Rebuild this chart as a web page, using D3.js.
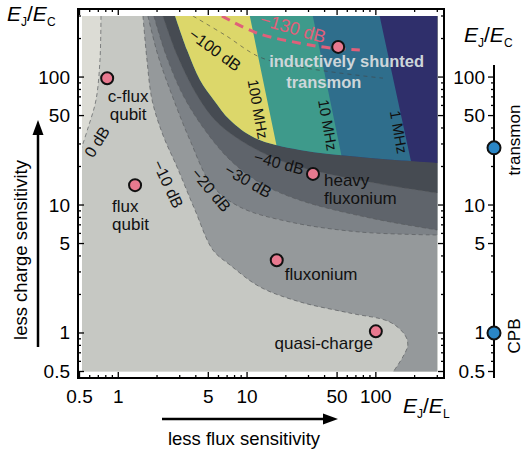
<!DOCTYPE html>
<html>
<head>
<meta charset="utf-8">
<script src="https://cdn.jsdelivr.net/npm/d3@7"></script>
<style>
body { margin: 0; background: #fff; }
text { font-family: "Liberation Sans", Arial, sans-serif; }
</style>
</head>
<body>
<svg width="524" height="452"></svg>
<script>
// all points are [EJ/EL, EJ/EC]
var contour0 = [[0.734, 300], [0.721, 136], [0.671, 66], [0.582, 40], [0.5, 25]];
var contour10 = [[1.555, 300], [1.67, 136], [1.83, 66], [2.22, 35.3], [2.86, 19.8], [3.94, 9.14], [5.43, 4.45],
  [7.37, 3.4], [12.6, 2.29], [25.7, 1.75], [62.8, 1.43], [128, 1.22], [168, 0.965], [177, 0.806], [162, 0.65], [133, 0.48]];
var contour20 = [[1.70, 300], [2.03, 148.5], [2.61, 72.3], [3.60, 32.2], [5.34, 14.3], [8.81, 9.64], [21.5, 7.37], [75.1, 6.15], [300, 5.83]];
var contour30 = [[1.89, 300], [2.35, 148.5], [3.18, 72.3], [4.71, 38.5], [7.37, 22.5], [12.6, 14.9], [25.7, 10.9], [90, 7.92], [300, 6.38]];
var contour40 = [[2.22, 300], [2.86, 148.5], [4.08, 72.3], [5.63, 46.1], [8.81, 32.2], [17.7, 22.5], [36.8, 18.1], [108, 14.6], [300, 12.4]];
var colorEdge = [[2.76, 300], [3.42, 162.5], [4.31, 94.8], [5.53, 66], [7.37, 46.1], [11.5, 33.4], [25.7, 26.9], [75.1, 23.7], [300, 21.3]];

// frequency band edges: top and bottom point
var freq100 = [[10.5, 300], [18.7, 18]];
var freq10 = [[32.4, 300], [57.5, 18]];
var freq1 = [[107, 300], [198, 17]];

var line100dB = [[3.80, 300], [6.74, 213], [12.6, 143], [25.7, 120], [52.6, 107.5], [113.5, 98]];
var line130dB = [[6.38, 300], [11.9, 221], [25.7, 184], [44, 169], [75.1, 163]];

var qubits = [
  {name: "c-flux qubit", x: 0.82, y: 98},
  {name: "flux qubit", x: 1.35, y: 14.3},
  {name: "fluxonium", x: 17, y: 3.7},
  {name: "heavy fluxonium", x: 32.5, y: 17.5},
  {name: "quasi-charge", x: 100, y: 1.03},
  {name: "inductively shunted transmon", x: 51, y: 172}
];
var sideQubits = [{name: "transmon", y: 28}, {name: "CPB", y: 1}];

var contourLabels = [
  {text: "0 dB", x: 0.685, y: 31.1, angle: -58},
  {text: "\u221210 dB", x: 2.43, y: 14.6, angle: 65},
  {text: "\u221220 dB", x: 5.25, y: 13.1, angle: 50},
  {text: "\u221230 dB", x: 10.2, y: 15.4, angle: 30},
  {text: "\u221240 dB", x: 17.7, y: 21.3, angle: 15},
  {text: "\u2212100 dB", x: 5.63, y: 163, angle: 36}
];
var freqLabels = [
  {text: "100 MHz", x: 12.2, y: 56.2},
  {text: "10 MHz", x: 42.5, y: 42.2},
  {text: "1 MHz", x: 151, y: 37.2}
];

var tickValues = [0.5, 1, 5, 10, 50, 100];
var tickLabels = ["0.5", "1", "5", "10", "50", "100"];
var minorTicks = [0.6, 0.7, 0.8, 0.9, 2, 3, 4, 6, 7, 8, 9, 20, 30, 40, 60, 70, 80, 90, 200, 300];

var svg = d3.select("svg");

var x = d3.scaleLog().domain([0.5, 300]).range([79.5, 437.3]);
var y = d3.scaleLog().domain([0.5, 300]).range([371.5, 16]);

var frame = {left: 78, top: 9, right: 444, bottom: 378};

var defs = svg.append("defs");
defs.append("clipPath").attr("id", "plot").append("rect")
  .attr("x", 82).attr("y", 16).attr("width", x(300) - 82).attr("height", y(0.5) - 16);

var line = d3.line()
  .x(d => x(d[0]))
  .y(d => y(d[1]))
  .curve(d3.curveCatmullRom.alpha(0.5));

// closes a curve with extra corner points
function region(points, corners) {
  return line(points) + corners.map(c => "L" + x(c[0]) + "," + y(c[1])).join("") + "Z";
}
function topRight(points) {
  var first = points[0], last = points[points.length - 1];
  return [[1000, last[1]], [1000, 1000], [first[0], 1000]];
}

var plot = svg.append("g").attr("clip-path", "url(#plot)");

plot.append("rect").attr("x", 0).attr("y", 0).attr("width", 524).attr("height", 452).attr("fill", "#dcdcd5");

plot.append("path")
  .attr("d", region(contour0, [[0.1, 25], [0.1, 0.1], [1000, 0.1], [1000, 1000], [0.734, 1000]]))
  .attr("fill", "#c6c8c3");
plot.append("path")
  .attr("d", region(contour10, [[133, 0.1], [1000, 0.1], [1000, 1000], [1.555, 1000]]))
  .attr("fill", "#95999b");
plot.append("path").attr("d", region(contour20, topRight(contour20))).attr("fill", "#7d8287");
plot.append("path").attr("d", region(contour30, topRight(contour30))).attr("fill", "#5f646b");
plot.append("path").attr("d", region(contour40, topRight(contour40))).attr("fill", "#464b52");

// coloured frequency bands
defs.append("clipPath").attr("id", "colored").append("path")
  .attr("d", region(colorEdge, topRight(colorEdge)));

var bands = plot.append("g").attr("clip-path", "url(#colored)");
bands.append("rect").attr("x", 0).attr("y", 0).attr("width", 524).attr("height", 452).attr("fill", "#2f2f6b");
[[freq1, "#2f6e8c"], [freq10, "#3e9a8b"], [freq100, "#dcd76a"]].forEach(function(b) {
  var pts = b[0];
  var d = "M" + x(0.1) + "," + y(1000) + "L" + x(pts[0][0]) + "," + y(1000) +
    "L" + x(pts[0][0]) + "," + y(pts[0][1]) + "L" + x(pts[1][0]) + "," + y(pts[1][1]) +
    "L" + x(pts[1][0]) + "," + y(0.1) + "L" + x(0.1) + "," + y(0.1) + "Z";
  bands.append("path").attr("d", d).attr("fill", b[1]);
});

// dashed contour lines
[contour0, contour10, contour20, contour30, contour40].forEach(function(c) {
  plot.append("path").attr("d", line(c))
    .attr("fill", "none").attr("stroke", "#5a5d60").attr("stroke-opacity", 0.7)
    .attr("stroke-width", 1).attr("stroke-dasharray", "4,3");
});

plot.append("path").attr("d", line(line100dB))
  .attr("fill", "none").attr("stroke", "#444").attr("stroke-opacity", 0.6)
  .attr("stroke-width", 1).attr("stroke-dasharray", "4,4");
plot.append("path").attr("d", line(line130dB))
  .attr("fill", "none").attr("stroke", "#e0607a")
  .attr("stroke-width", 3).attr("stroke-dasharray", "9,6");

// contour labels
contourLabels.forEach(function(l) {
  svg.append("text")
    .attr("transform", "translate(" + x(l.x) + "," + y(l.y) + ") rotate(" + l.angle + ")")
    .attr("text-anchor", "middle").attr("dominant-baseline", "central")
    .attr("font-size", 16).attr("fill", "#111")
    .text(l.text);
});
svg.append("text")
  .attr("transform", "translate(" + x(22.7) + "," + y(241) + ") rotate(16)")
  .attr("text-anchor", "middle").attr("dominant-baseline", "central")
  .attr("font-size", 18).attr("fill", "#e0607a")
  .text("\u2212130 dB");
freqLabels.forEach(function(l) {
  svg.append("text")
    .attr("transform", "translate(" + x(l.x) + "," + y(l.y) + ") rotate(80)")
    .attr("text-anchor", "middle").attr("dominant-baseline", "central")
    .attr("font-size", 15).attr("fill", "#111")
    .text(l.text);
});

// qubit markers
svg.selectAll(".qubit")
  .data(qubits)
  .enter().append("circle")
  .attr("class", "qubit")
  .attr("cx", d => x(d.x))
  .attr("cy", d => y(d.y))
  .attr("r", 6)
  .attr("fill", "#e8798f")
  .attr("stroke", "#111")
  .attr("stroke-width", 2);

// qubit names: [qubit, lines, dx, dy, anchor]
var nameSpots = [
  [0, ["c-flux", "qubit"], 21, 24, "middle"],
  [1, ["flux", "qubit"], -23, 27, "start"],
  [2, ["fluxonium"], 8, 20, "start"],
  [3, ["heavy", "fluxonium"], 11, 12, "start"],
  [4, ["quasi-charge"], -3, 18, "end"]
];
nameSpots.forEach(function(s) {
  var q = qubits[s[0]];
  s[1].forEach(function(t, i) {
    svg.append("text")
      .attr("x", x(q.x) + s[2]).attr("y", y(q.y) + s[3] + i * 18)
      .attr("text-anchor", s[4]).attr("font-size", 17).attr("fill", "#111")
      .text(t);
  });
});
var ist = qubits[5];
svg.append("text").attr("x", x(ist.x) - 69).attr("y", y(ist.y) + 20)
  .attr("font-family", "Open Sans").attr("font-weight", 600).attr("font-size", 16.5)
  .attr("fill", "#cdd6da").text("inductively shunted");
svg.append("text").attr("x", x(ist.x) - 52).attr("y", y(ist.y) + 41)
  .attr("font-family", "Open Sans").attr("font-weight", 600).attr("font-size", 16.5)
  .attr("fill", "#cdd6da").text("transmon");

// frame with ticks
svg.append("rect")
  .attr("x", frame.left).attr("y", frame.top)
  .attr("width", frame.right - frame.left).attr("height", frame.bottom - frame.top)
  .attr("fill", "none").attr("stroke", "#000").attr("stroke-width", 2);

var ticks = svg.append("g").attr("stroke", "#000").attr("stroke-width", 1.3);
tickValues.concat(minorTicks).forEach(function(v, i) {
  var len = i < tickValues.length ? 6 : 3;
  var px = x(v), py = y(v);
  ticks.append("line").attr("x1", px).attr("x2", px).attr("y1", frame.bottom).attr("y2", frame.bottom - len);
  ticks.append("line").attr("x1", px).attr("x2", px).attr("y1", frame.top).attr("y2", frame.top + len);
  ticks.append("line").attr("y1", py).attr("y2", py).attr("x1", frame.left).attr("x2", frame.left + len);
  ticks.append("line").attr("y1", py).attr("y2", py).attr("x1", frame.right).attr("x2", frame.right - len);
});

tickValues.forEach(function(v, i) {
  svg.append("text").attr("x", x(v)).attr("y", 403).attr("text-anchor", "middle")
    .attr("font-size", 19).text(tickLabels[i]);
  svg.append("text").attr("x", 70).attr("y", y(v)).attr("text-anchor", "end")
    .attr("dominant-baseline", "central").attr("font-size", 19).text(tickLabels[i]);
});

// side axis for charge qubits
var side = {x: 494, top: 65, bottom: 378};
svg.append("line").attr("x1", side.x).attr("x2", side.x).attr("y1", side.top).attr("y2", side.bottom)
  .attr("stroke", "#000").attr("stroke-width", 2);
tickValues.concat(minorTicks).forEach(function(v, i) {
  var len = i < tickValues.length ? 6 : 3;
  if (y(v) < side.top) return;
  svg.append("line").attr("x1", side.x).attr("x2", side.x - len).attr("y1", y(v)).attr("y2", y(v))
    .attr("stroke", "#000").attr("stroke-width", 1.3);
});
tickValues.forEach(function(v, i) {
  svg.append("text").attr("x", 485).attr("y", y(v)).attr("text-anchor", "end")
    .attr("dominant-baseline", "central").attr("font-size", 19).text(tickLabels[i]);
});
svg.selectAll(".side")
  .data(sideQubits)
  .enter().append("circle")
  .attr("class", "side")
  .attr("cx", side.x).attr("cy", d => y(d.y)).attr("r", 6.5)
  .attr("fill", "#2a86c6").attr("stroke", "#111").attr("stroke-width", 2);
svg.append("text").attr("transform", "translate(520," + 140 + ") rotate(-90)")
  .attr("text-anchor", "middle").attr("font-size", 17).text("transmon");
svg.append("text").attr("transform", "translate(520," + 336 + ") rotate(-90)")
  .attr("text-anchor", "middle").attr("font-size", 17).text("CPB");

// axis titles E_J / E_C
function ratio(tx, ty, sub) {
  var t = svg.append("text").attr("x", tx).attr("y", ty)
    .attr("font-family", "Liberation Serif").attr("font-size", 21);
  t.append("tspan").attr("font-style", "italic").text("E");
  t.append("tspan").attr("font-size", 12).attr("dy", 5).text("J");
  t.append("tspan").attr("dy", -5).text("/");
  t.append("tspan").attr("font-style", "italic").text("E");
  t.append("tspan").attr("font-size", 12).attr("dy", 5).text(sub);
}
ratio(7, 21, "C");
ratio(464, 42, "C");
ratio(403, 413, "L");

// sensitivity arrows
var arrows = svg.append("g");
arrows.append("line").attr("x1", 38).attr("x2", 38).attr("y1", 347).attr("y2", 132)
  .attr("stroke", "#000").attr("stroke-width", 2.5);
arrows.append("path").attr("d", "M38,120 L32.5,135 L43.5,135 Z").attr("fill", "#000");
arrows.append("line").attr("x1", 162).attr("x2", 325).attr("y1", 419).attr("y2", 419)
  .attr("stroke", "#000").attr("stroke-width", 2.5);
arrows.append("path").attr("d", "M338,419 L323,413.5 L323,424.5 Z").attr("fill", "#000");
svg.append("text").attr("transform", "translate(27,250) rotate(-90)")
  .attr("text-anchor", "middle").attr("font-size", 18.5).text("less charge sensitivity");
svg.append("text").attr("x", 244).attr("y", 445)
  .attr("text-anchor", "middle").attr("font-size", 18.5).text("less flux sensitivity");
</script>
</body>
</html>
